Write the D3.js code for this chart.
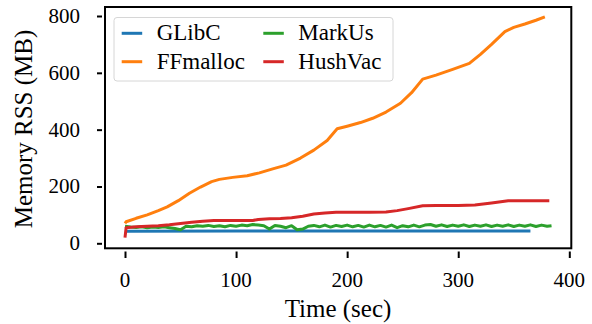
<html>
<head>
<meta charset="utf-8">
<script src="https://cdn.jsdelivr.net/npm/d3@7"></script>
</head>
<body style="margin:0">
<svg id="chart" width="592" height="324"></svg>
<script>
// series names + colours (matplotlib tab10)
const seriesNames = ["GLibC", "FFmalloc", "MarkUs", "HushVac"];
const seriesColors = ["#1f77b4", "#ff7f0e", "#2ca02c", "#d62728"];

// [time (sec), RSS (MB)]
const glibc = [[1, 42], [100, 43], [200, 43], [300, 43], [365, 43]];

const ffmalloc = [
  [0, 70], [1, 76], [10, 88], [20, 100], [30, 115], [38, 128], [48, 150],
  [58, 176], [68, 198], [78, 217], [85, 225], [97, 232], [110, 238],
  [121, 248], [133, 262], [145, 275], [158, 300], [170, 328], [182, 362],
  [191, 403], [200, 412], [212, 425], [223, 440], [235, 462], [248, 493],
  [258, 530], [268, 578], [280, 592], [295, 612], [310, 633], [320, 665],
  [330, 700], [342, 745], [350, 760], [360, 772], [370, 785], [378, 797]
];

const markusTimes = d3.range(0, 385, 5).concat([384]);
const markusValues = [
  60, 57, 56, 58, 55, 57, 56, 58, 55, 52, 48, 60, 58, 62, 60, 63, 59, 62, 58, 63,
  60, 64, 62, 66, 64, 62, 50, 63, 60, 55, 62, 48, 50, 60, 63, 58, 64, 57, 63, 59,
  64, 58, 63, 57, 64, 58, 63, 57, 64, 55, 62, 58, 64, 58, 64, 66, 60, 65, 59, 64,
  60, 65, 59, 64, 60, 65, 59, 64, 60, 65, 59, 64, 60, 65, 59, 64, 60, 62
];
const markus = markusTimes.map((t, i) => [t, markusValues[i]]);

const hushvac = [
  [0, 20], [1, 55], [10, 58], [20, 60], [30, 62], [40, 65], [50, 70], [60, 74],
  [70, 78], [80, 80], [100, 80], [115, 80], [120, 84], [130, 86], [140, 87],
  [150, 90], [160, 95], [170, 103], [180, 107], [190, 109], [200, 109],
  [220, 109], [235, 110], [245, 115], [255, 122], [268, 132], [280, 133],
  [300, 133], [315, 135], [330, 142], [345, 150], [360, 150], [382, 150]
];

const seriesData = [glibc, ffmalloc, markus, hushvac];

const xTicks = [0, 100, 200, 300, 400];
const yTicks = [0, 200, 400, 600, 800];

const FONT = '"Liberation Serif"';

const svg = d3.select("#chart");

const xScale = d3.scaleLinear().domain([0, 400]).range([125, 569.3]);
const yScale = d3.scaleLinear().domain([0, 800]).range([243.3, 16]);

// all texts go straight on the svg (the serif font only took there)
const addText = (x, y, size, str, anchor) => {
  const t = svg.append("text")
    .attr("x", x).attr("y", y)
    .attr("font-family", FONT)
    .attr("font-size", size)
    .attr("text-anchor", anchor || "start")
    .text(str);
  t.node().getComputedTextLength();
  return t;
};

// axis labels
addText(338, 317, 25, "Time (sec)", "middle");
addText(0, 0, 25, "Memory RSS (MB)", "middle")
  .attr("transform", "translate(32,129) rotate(-90)");

// tick labels
xTicks.forEach((d) => addText(xScale(d), 286.7, 21, d, "middle"));
yTicks.forEach((d) => addText(80, yScale(d) + 7, 21, d, "end"));

// legend labels
const colX = [121.7, 263.3];
const rowY = [33.3, 61.7];
seriesNames.forEach((name, i) => {
  addText(colX[Math.floor(i / 2)] + 35, rowY[i % 2] + 7, 23, name);
});

// frame
svg.append("rect")
  .attr("x", 105).attr("y", 7)
  .attr("width", 466.3).attr("height", 241.3)
  .attr("fill", "none")
  .attr("stroke", "#000")
  .attr("stroke-width", 2);

// tick marks from d3 axes (ticks sit slightly off the frame)
const yAxis = svg.append("g")
  .attr("transform", "translate(102,0)")
  .call(d3.axisLeft(yScale).tickValues(yTicks).tickSize(5).tickFormat(""));
const xAxis = svg.append("g")
  .attr("transform", "translate(0,251.5)")
  .call(d3.axisBottom(xScale).tickValues(xTicks).tickSize(6.5).tickFormat(""));

[yAxis, xAxis].forEach((g) => {
  g.select(".domain").remove();
  g.selectAll("text").remove();
  g.selectAll("line").attr("stroke", "#000").attr("stroke-width", 2);
});

// lines
const line = d3.line()
  .x((d) => xScale(d[0]))
  .y((d) => yScale(d[1]));

svg.selectAll(".series")
  .data(seriesData)
  .enter()
  .append("path")
  .attr("class", "series")
  .attr("d", line)
  .attr("fill", "none")
  .attr("stroke", (d, i) => seriesColors[i])
  .attr("stroke-width", 3)
  .attr("stroke-linejoin", "round");

// legend box + handles (drawn below the legend labels)
const legend = svg.insert("g", "text");
legend.append("rect")
  .attr("x", 114).attr("y", 17.5)
  .attr("width", 279).attr("height", 63.5)
  .attr("rx", 3)
  .attr("fill", "#fff").attr("fill-opacity", 0.8)
  .attr("stroke", "#d6d6d6").attr("stroke-width", 1);

seriesNames.forEach((name, i) => {
  const cx = colX[Math.floor(i / 2)];
  const cy = rowY[i % 2];
  legend.append("line")
    .attr("x1", cx).attr("x2", cx + 20.5)
    .attr("y1", cy).attr("y2", cy)
    .attr("stroke", seriesColors[i])
    .attr("stroke-width", 3);
});
// keep the legend above the plotted lines
legend.raise();
svg.selectAll("text").raise();
</script>
</body>
</html>
